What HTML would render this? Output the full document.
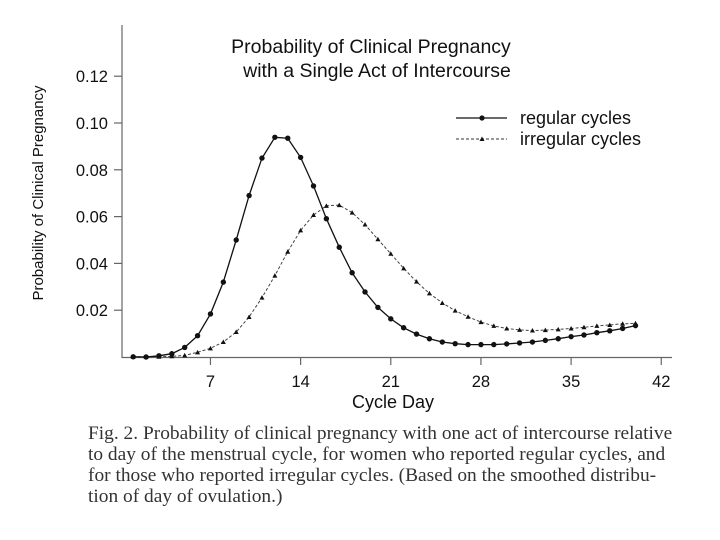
<!DOCTYPE html>
<html><head><meta charset="utf-8"><style>
body{margin:0;background:#fff;width:720px;height:540px;overflow:hidden}
svg{display:block}
.ax{font-family:"Liberation Sans",sans-serif;font-size:16.5px;fill:#111}
.cap{font-family:"Liberation Serif",serif;font-size:19.4px;fill:#333}
</style></head><body>
<svg id="chart" width="720" height="540">
<g id="axes"></g>
<g id="marks"></g>
<text class="ax" x="371" y="53" text-anchor="middle" style="font-size:19.5px">Probability of Clinical Pregnancy</text>
<text class="ax" x="377" y="77" text-anchor="middle" style="font-size:19.5px">with a Single Act of Intercourse</text>
<text class="ax" x="393" y="408" text-anchor="middle" style="font-size:18px">Cycle Day</text>
<text class="ax" transform="translate(43,193) rotate(-90)" text-anchor="middle" style="font-size:15px">Probability of Clinical Pregnancy</text>
<g>
<line x1="456" y1="118" x2="507" y2="118" stroke="#111" stroke-width="1.3"/>
<circle cx="482" cy="118" r="2.6" fill="#111"/>
<text class="ax" x="520" y="124" style="font-size:18px">regular cycles</text>
<line x1="456" y1="139" x2="507" y2="139" stroke="#333" stroke-width="1" stroke-dasharray="3,2"/>
<path d="M479.5,141 L482,136.5 L484.5,141Z" fill="#111"/>
<text class="ax" x="520" y="145" style="font-size:18px">irregular cycles</text>
</g>
<g>
<text class="cap" x="88" y="439">Fig. 2. Probability of clinical pregnancy with one act of intercourse relative</text>
<text class="cap" x="88" y="460">to day of the menstrual cycle, for women who reported regular cycles, and</text>
<text class="cap" x="88" y="481">for those who reported irregular cycles. (Based on the smoothed distribu-</text>
<text class="cap" x="88" y="502">tion of day of ovulation.)</text>
</g>
</svg>
<script>
const days = [1,2,3,4,5,6,7,8,9,10,11,12,13,14,15,16,17,18,19,20,21,22,23,24,25,26,27,28,29,30,31,32,33,34,35,36,37,38,39,40];
const regular = [0.0001,0,0.0005,0.0014,0.0041,0.0091,0.0184,0.032,0.050,0.069,0.085,0.0939,0.0935,0.0853,0.0731,0.0591,0.0469,0.036,0.0278,0.0212,0.0163,0.0125,0.0098,0.0078,0.0064,0.0057,0.0053,0.0053,0.0053,0.0056,0.006,0.0064,0.0071,0.0078,0.0087,0.0094,0.0104,0.0112,0.0122,0.0134];
const irregular = [0.0001,0.0001,0.0001,0.0003,0.0007,0.002,0.0037,0.0064,0.0107,0.0171,0.0254,0.0348,0.045,0.0541,0.0607,0.0646,0.0649,0.0617,0.0566,0.0503,0.0441,0.0379,0.0322,0.0272,0.0231,0.0198,0.0172,0.0149,0.0133,0.0122,0.0116,0.0113,0.0115,0.0118,0.0122,0.0127,0.0133,0.0137,0.0142,0.0144];
const xTicks = [7,14,21,28,35,42];
const yTicks = [0.02,0.04,0.06,0.08,0.10,0.12];
const yTickLabels = ["0.02","0.04","0.06","0.08","0.10","0.12"];

const NS="http://www.w3.org/2000/svg";
const X = d => 120.3 + d*12.88;
const Y = v => 357 - v*2340;
function mk(tag, attrs, parent){const e=document.createElementNS(NS,tag);for(const k in attrs)e.setAttribute(k,attrs[k]);parent.appendChild(e);return e;}
const axes=document.getElementById('axes'), marks=document.getElementById('marks');
let a=mk('line',{x1:122,y1:25,x2:122,y2:358,stroke:'#666','stroke-width':1.2},axes);


a=mk('line',{x1:122,y1:357.5,x2:672,y2:357.5,stroke:'#666','stroke-width':1.2},axes);


xTicks.forEach(t=>{
  mk('line',{x1:X(t),y1:357,x2:X(t),y2:365,stroke:'#666','stroke-width':1.2},axes);
  const tx=mk('text',{x:X(t),y:387,'text-anchor':'middle',class:'ax'},axes);
  tx.textContent=t;
  
  
});
yTicks.forEach((t,i)=>{
  mk('line',{x1:114,y1:Y(t),x2:122,y2:Y(t),stroke:'#666','stroke-width':1.2},axes);
  const tx=mk('text',{x:108,y:Y(t)+6,'text-anchor':'end',class:'ax'},axes);
  tx.textContent=yTickLabels[i];
  
  
});
function pts(vals){return days.map((d,i)=>X(d).toFixed(1)+','+Y(vals[i]).toFixed(1)).join(' ');}
let p=mk('polyline',{points:pts(irregular),fill:'none',stroke:'#444','stroke-width':1,'stroke-dasharray':'3,2'},marks);


p=mk('polyline',{points:pts(regular),fill:'none',stroke:'#111','stroke-width':1.3},marks);


days.forEach((d,i)=>{
  const x=X(d),y=Y(irregular[i]);
  const t=mk('path',{d:`M${x-2.5},${y+2} L${x},${y-2.5} L${x+2.5},${y+2}Z`,fill:'#111'},marks);
  
  
});
days.forEach((d,i)=>{
  const c=mk('circle',{cx:X(d),cy:Y(regular[i]),r:2.7,fill:'#111'},marks);
  
  
});
</script>
</body></html>
